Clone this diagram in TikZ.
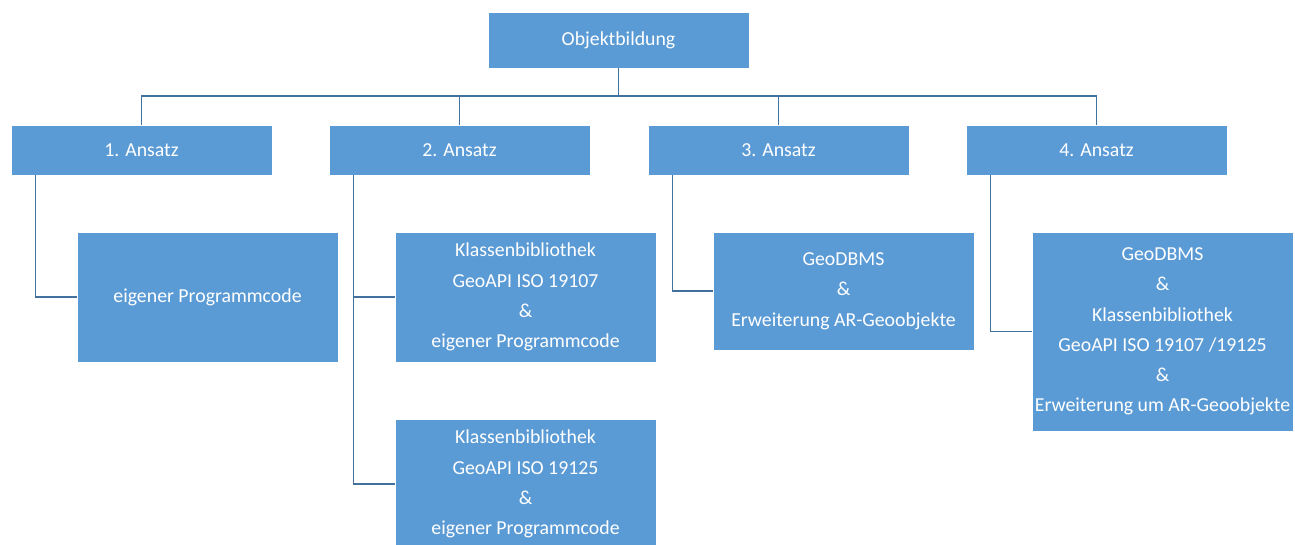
\documentclass[tikz,border=0pt]{standalone}
\usepackage{fontspec}
\setmainfont{Carlito}
\definecolor{boxblue}{HTML}{5B9BD5}
\definecolor{linkblue}{HTML}{41719C}
\begin{document}
\begin{tikzpicture}[x=1pt,y=-1pt,
  box/.style={rectangle, fill=boxblue, draw=white, line width=0.8pt, inner sep=0pt,
    text=white, align=center, font=\fontsize{19.8}{30.3}\selectfont, minimum width=261pt},
  link/.style={draw=linkblue, line width=1.6pt}]
\useasboundingbox (0,0) rectangle (1295,544);
\node[box, minimum height=56pt] (top) at (618.5,40) {Objektbildung};
\node[box, minimum height=50pt] (a1) at (141.5,150) {1. Ansatz};
\node[box, minimum height=50pt] (a2) at (459.5,150) {2. Ansatz};
\node[box, minimum height=50pt] (a3) at (778.5,150) {3. Ansatz};
\node[box, minimum height=50pt] (a4) at (1096.5,150) {4. Ansatz};
\node[box, minimum height=130pt] (c1) at (207.5,297) {eigener Programmcode};
\node[box, minimum height=130pt] (c2) at (525.5,297) {Klassenbibliothek\\GeoAPI ISO 19107\\\&\\eigener Programmcode};
\node[box, minimum height=130pt] (c2b) at (525.5,484) {Klassenbibliothek\\GeoAPI ISO 19125\\\&\\eigener Programmcode};
\node[box, minimum height=118pt] (c3) at (843.5,291) {GeoDBMS\\\&\\Erweiterung AR-Geoobjekte};
\node[box, minimum height=199pt] (c4) at (1162.5,331.5) {GeoDBMS\\\&\\Klassenbibliothek\\GeoAPI ISO 19107 /19125\\\&\\Erweiterung um AR-Geoobjekte};
\coordinate (bus) at (618.5,96);
\draw[link] (top.south) -- (bus);
\draw[link] (a1.north) |- (bus) -| (a4.north);
\draw[link] (a2.north) -- (a2.north |- bus);
\draw[link] (a3.north) -- (a3.north |- bus);
\draw[link] ([xshift=25pt]a1.south west) |- (c1.west);
\draw[link] ([xshift=25pt]a2.south west) |- (c2b.west);
\draw[link] ([xshift=25pt]a2.south west |- c2.west) -- (c2.west);
\draw[link] ([xshift=25pt]a3.south west) |- (c3.west);
\draw[link] ([xshift=25pt]a4.south west) |- (c4.west);
\end{tikzpicture}
\end{document}
